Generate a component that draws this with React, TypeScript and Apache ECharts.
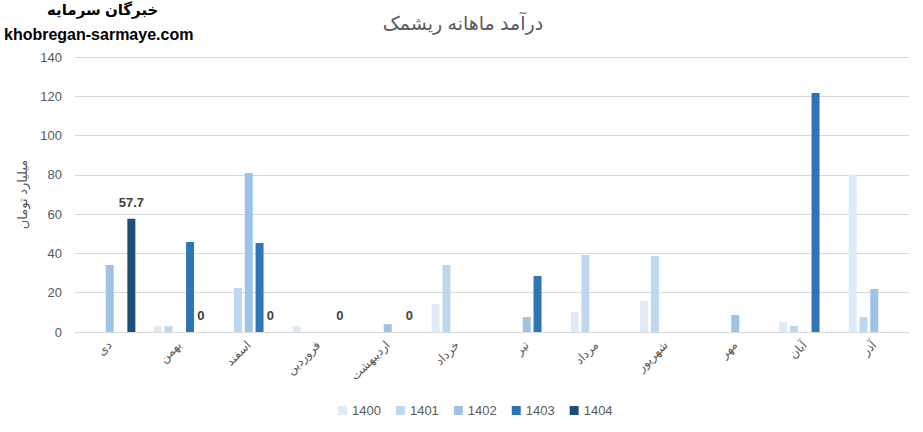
import React, { useEffect, useRef } from "react";
import * as echarts from "echarts";

const categories = ["دی", "بهمن", "اسفند", "فروردین", "اردیبهشت", "خرداد", "تیر", "مرداد", "شهریور", "مهر", "آبان", "آذر"];
const seriesNames = ["1400", "1401", "1402", "1403", "1404"];
const s1400 = [null, 3, null, 3, null, 14.2, null, 10.2, 15.8, null, 5.1, 80];
const s1401 = [null, 3, 22.4, null, null, 34.1, null, 39.2, 38.7, null, 3.1, 7.6];
const s1402 = [34.1, null, 80.9, null, 4, null, 7.6, null, null, 8.7, null, 21.9];
const s1403 = [null, 45.8, 45.3, null, null, null, 28.5, null, null, null, 121.7, null];
const s1404 = [57.7, 0, 0, 0, 0, null, null, null, null, null, null, null];
const colors = ["#DEEBF7", "#BDD7EE", "#9DC3E6", "#2E75B6", "#1F4E79"];
const yTicks = { min: 0, max: 140, interval: 20 };

const FONT = "'Liberation Sans', 'DejaVu Sans', sans-serif";

export default function App() {
  const ref = useRef<HTMLDivElement>(null);
  useEffect(() => {
    document.body.style.margin = "0";
    const chart = echarts.init(ref.current!, null, { renderer: "svg" });
    const data = [s1400, s1401, s1402, s1403, s1404];
    chart.setOption({
      animation: false,
      textStyle: { fontFamily: FONT },
      color: colors,
      title: {
        text: "درآمد ماهانه ریشمک",
        left: 458,
        textAlign: "center",
        top: 9,
        textStyle: { fontSize: 19, fontWeight: "normal", color: "#595959", fontFamily: FONT },
      },
      graphic: [
        {
          type: "text",
          left: 47,
          top: 2,
          style: { text: "خبرگان سرمایه", font: "bold 15px " + FONT, fill: "#000" },
        },
        {
          type: "text",
          left: 4,
          top: 26,
          style: { text: "khobregan-sarmaye.com", font: "bold 16px " + FONT, fill: "#000" },
        },
      ],
      legend: {
        data: seriesNames,
        bottom: 10,
        left: 333,
        icon: "rect",
        itemWidth: 9,
        itemHeight: 9,
        itemGap: 15,
        textStyle: { fontSize: 13, color: "#595959", fontFamily: FONT },
      },
      grid: { left: 75, right: 14, top: 57, bottom: 100 },
      xAxis: {
        type: "category",
        data: categories,
        axisLine: { lineStyle: { color: "#d9d9d9" } },
        axisTick: { show: false },
        axisLabel: { rotate: 45, color: "#595959", fontSize: 12, margin: 11, fontFamily: FONT },
      },
      yAxis: {
        type: "value",
        min: yTicks.min,
        max: yTicks.max,
        interval: yTicks.interval,
        name: "میلیارد تومان",
        nameLocation: "middle",
        nameGap: 43,
        nameRotate: 90,
        nameTextStyle: { color: "#595959", fontSize: 13, fontFamily: FONT },
        axisLine: { show: false },
        axisTick: { show: false },
        axisLabel: { color: "#595959", fontSize: 13, margin: 13, fontFamily: FONT },
        splitLine: { lineStyle: { color: "#d9d9d9" } },
      },
      series: seriesNames.map((name, i) => ({
        name,
        type: "bar",
        data: data[i],
        barWidth: 8,
        barGap: "35%",
        itemStyle: { color: colors[i] },
        label:
          name === "1404"
            ? {
                show: true,
                position: "top",
                distance: 10,
                fontWeight: "bold",
                fontSize: 13,
                color: "#404040",
                fontFamily: FONT,
              }
            : { show: false },
      })),
    });
    return () => chart.dispose();
  }, []);
  return <div ref={ref} style={{ width: 923, height: 432 }} />;
}
